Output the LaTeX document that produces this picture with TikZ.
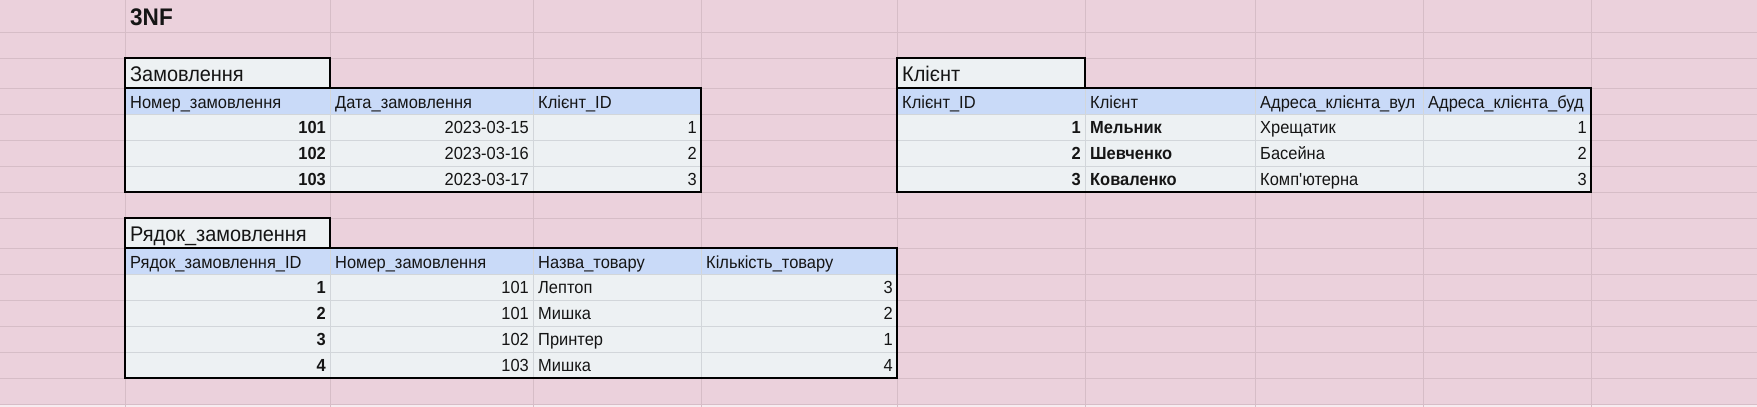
\documentclass[tikz,border=0pt]{standalone}
\usepackage{fontspec}
\setmainfont{Liberation Sans}
\newfontfamily\sheetfont{Liberation Sans}[FakeStretch=0.94]
\definecolor{bgpink}{HTML}{EBD1DC}
\definecolor{gridpink}{HTML}{D6BDC7}
\definecolor{cellbg}{HTML}{EDF1F3}
\definecolor{headbg}{HTML}{C9DAF8}
\definecolor{innergrid}{HTML}{D2D6DA}
\definecolor{txt}{HTML}{151515}
\newcommand{\cellfnt}{\sheetfont\fontsize{17.5}{19}\selectfont}
\newcommand{\ttlfnt}{\sheetfont\fontsize{21.2}{23}\selectfont}
\newcommand{\bigfnt}{\sheetfont\fontsize{24}{26}\selectfont\bfseries}
\tikzset{
  lt/.style={inner sep=0pt, text=txt, font=\cellfnt, anchor=base west},
  rt/.style={inner sep=0pt, text=txt, font=\cellfnt, anchor=base east},
  blt/.style={lt, font=\cellfnt\bfseries},
  brt/.style={rt, font=\cellfnt\bfseries},
  ttl/.style={inner sep=0pt, text=txt, font=\ttlfnt, anchor=base west},
  gridln/.style={draw=gridpink, line width=1pt},
  inln/.style={draw=innergrid, line width=1pt},
  outer/.style={draw=black, line width=1.4pt},
}
\begin{document}
\begin{tikzpicture}[x=1pt,y=-1pt]
\useasboundingbox (0,0) rectangle (1757,407);
\fill[bgpink] (0,0) rectangle (1757,407);
\fill[white!60!bgpink] (0,404) rectangle (1757,407);
% sheet grid
\foreach \r in {32,58,88,114,140,166,192,218,248,274,300,326,352,378,404}
  \draw[gridln] (0,\r) -- (1757,\r);
\foreach \c in {125,330,533,701,897,1085,1255,1423,1591}
  \draw[gridln] (\c,0) -- (\c,407);

% ---------- Table Замовлення ----------
\fill[cellbg] (125,58) rectangle (330,88);
\fill[headbg] (125,88) rectangle (701,114);
\fill[cellbg] (125,114) rectangle (701,192);
\foreach \r in {114,140,166} \draw[inln] (125,\r) -- (701,\r);
\foreach \c in {330,533} \draw[inln] (\c,88) -- (\c,192);
\draw[outer] (125,58) rectangle (330,88);
\draw[outer] (125,88) rectangle (701,192);

% ---------- Table Клієнт ----------
\fill[cellbg] (897,58) rectangle (1085,88);
\fill[headbg] (897,88) rectangle (1591,114);
\fill[cellbg] (897,114) rectangle (1591,192);
\foreach \r in {114,140,166} \draw[inln] (897,\r) -- (1591,\r);
\foreach \c in {1085,1255,1423} \draw[inln] (\c,88) -- (\c,192);
\draw[outer] (897,58) rectangle (1085,88);
\draw[outer] (897,88) rectangle (1591,192);

% ---------- Table Рядок_замовлення ----------
\fill[cellbg] (125,218) rectangle (330,248);
\fill[headbg] (125,248) rectangle (897,274);
\fill[cellbg] (125,274) rectangle (897,378);
\foreach \r in {274,300,326,352} \draw[inln] (125,\r) -- (897,\r);
\foreach \c in {330,533,701} \draw[inln] (\c,248) -- (\c,378);
\draw[outer] (125,218) rectangle (330,248);
\draw[outer] (125,248) rectangle (897,378);

% ---------- Texts ----------
\node[inner sep=0pt, text=txt, font=\bigfnt, anchor=base west] (title) at (130,25) {3NF};

\node[ttl] (zt) at (130,81) {Замовлення};
\node[lt] (zh1) at (130,108) {Номер\_замовлення};
\node[lt] (zh2) at (335,108) {Дата\_замовлення};
\node[lt] (zh3) at (538,108) {Клієнт\_ID};
\node[brt] (z11) at (326,133.5) {101};
\node[rt] (z12) at (529,133.5) {2023-03-15};
\node[rt] (z13) at (697,133.5) {1};
\node[brt] (z21) at (326,159.5) {102};
\node[rt] (z22) at (529,159.5) {2023-03-16};
\node[rt] (z23) at (697,159.5) {2};
\node[brt] (z31) at (326,185.5) {103};
\node[rt] (z32) at (529,185.5) {2023-03-17};
\node[rt] (z33) at (697,185.5) {3};

\node[ttl] (kt) at (902,81) {Клієнт};
\node[lt] (kh1) at (902,108) {Клієнт\_ID};
\node[lt] (kh2) at (1090,108) {Клієнт};
\node[lt] (kh3) at (1260,108) {Адреса\_клієнта\_вул};
\node[lt] (kh4) at (1428,108) {Адреса\_клієнта\_буд};
\node[brt] (k11) at (1081,133.5) {1};
\node[blt] (k12) at (1090,133.5) {Мельник};
\node[lt] (k13) at (1260,133.5) {Хрещатик};
\node[rt] (k14) at (1587,133.5) {1};
\node[brt] (k21) at (1081,159.5) {2};
\node[blt] (k22) at (1090,159.5) {Шевченко};
\node[lt] (k23) at (1260,159.5) {Басейна};
\node[rt] (k24) at (1587,159.5) {2};
\node[brt] (k31) at (1081,185.5) {3};
\node[blt] (k32) at (1090,185.5) {Коваленко};
\node[lt] (k33) at (1260,185.5) {Комп\textquotesingle ютерна};
\node[rt] (k34) at (1587,185.5) {3};

\node[ttl] (rt0) at (130,241) {Рядок\_замовлення};
\node[lt] (rh1) at (130,268) {Рядок\_замовлення\_ID};
\node[lt] (rh2) at (335,268) {Номер\_замовлення};
\node[lt] (rh3) at (538,268) {Назва\_товару};
\node[lt] (rh4) at (706,268) {Кількість\_товару};
\node[brt] (r11) at (326,293.5) {1};
\node[rt] (r12) at (529,293.5) {101};
\node[lt] (r13) at (538,293.5) {Лептоп};
\node[rt] (r14) at (893,293.5) {3};
\node[brt] (r21) at (326,319.5) {2};
\node[rt] (r22) at (529,319.5) {101};
\node[lt] (r23) at (538,319.5) {Мишка};
\node[rt] (r24) at (893,319.5) {2};
\node[brt] (r31) at (326,345.5) {3};
\node[rt] (r32) at (529,345.5) {102};
\node[lt] (r33) at (538,345.5) {Принтер};
\node[rt] (r34) at (893,345.5) {1};
\node[brt] (r41) at (326,371.5) {4};
\node[rt] (r42) at (529,371.5) {103};
\node[lt] (r43) at (538,371.5) {Мишка};
\node[rt] (r44) at (893,371.5) {4};
\end{tikzpicture}
\end{document}
